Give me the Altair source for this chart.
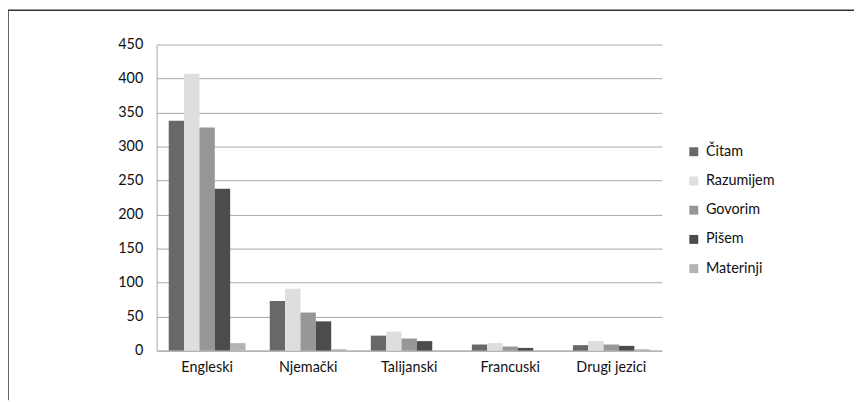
import altair as alt
import pandas as pd

languages = ["Engleski", "Njemački", "Talijanski", "Francuski", "Drugi jezici"]
series = ["Čitam", "Razumijem", "Govorim", "Pišem", "Materinji"]
citam = [338, 73, 22, 9, 8]
razumijem = [407, 91, 28, 11, 14]
govorim = [328, 56, 18, 6, 9]
pisem = [238, 43, 14, 4, 7]
materinji = [11, 2, 0, 0, 2]
colors = ["#686868", "#dedede", "#979797", "#4c4c4c", "#b3b3b3"]

vals = [citam, razumijem, govorim, pisem, materinji]
rows = []
for s, v in zip(series, vals):
    for lang, x in zip(languages, v):
        rows.append({"jezik": lang, "serija": s, "broj": x})
df = pd.DataFrame(rows)

FONT = "Lato"
FS = 14.5
TXT = "#111111"

bars = alt.Chart(df).mark_bar().encode(
    x=alt.X("jezik:N", sort=languages, title=None,
            scale=alt.Scale(paddingInner=0.24, paddingOuter=0.12),
            axis=alt.Axis(labelAngle=0, ticks=False, labelPadding=10,
                          domainColor="#a6a6a6", labelFontSize=FS,
                          labelColor=TXT, labelFont=FONT)),
    xOffset=alt.XOffset("serija:N", sort=series),
    y=alt.Y("broj:Q", title=None,
            scale=alt.Scale(domain=[0, 450], nice=False),
            axis=alt.Axis(values=list(range(0, 451, 50)), ticks=False,
                          labelPadding=14, domainColor="#a6a6a6",
                          gridColor="#a6a6a6", labelFontSize=FS,
                          labelColor=TXT, labelFont=FONT)),
    color=alt.Color("serija:N", sort=series,
                    scale=alt.Scale(domain=series, range=colors),
                    legend=alt.Legend(title=None, orient="none",
                                      legendX=535, legendY=101,
                                      symbolType="square", symbolSize=81,
                                      symbolStrokeWidth=0,
                                      labelFontSize=FS, labelFont=FONT,
                                      labelColor=TXT,
                                      rowPadding=14.5, labelOffset=5)),
)

frame = alt.Chart(alt.Data(values=[{"a": 1}]))
top_line = frame.mark_rule(color="#333333", strokeWidth=1.5).encode(
    x=alt.value(-150), x2=alt.value(704), y=alt.value(-34.5))
left_line = frame.mark_rule(color="#333333", strokeWidth=1.5).encode(
    x=alt.value(-150), y=alt.value(-34.5), y2=alt.value(359))

chart = alt.layer(bars, top_line, left_line).properties(
    width=510, height=309,
    autosize=alt.AutoSizeParams(type="none"),
    padding={"left": 150, "top": 35, "right": 194, "bottom": 50},
).configure_view(stroke=None).configure_axis(grid=True)
chart = chart.configure_axisX(grid=False)

chart.save("out.html", embed_options={"renderer": "svg", "actions": False})
